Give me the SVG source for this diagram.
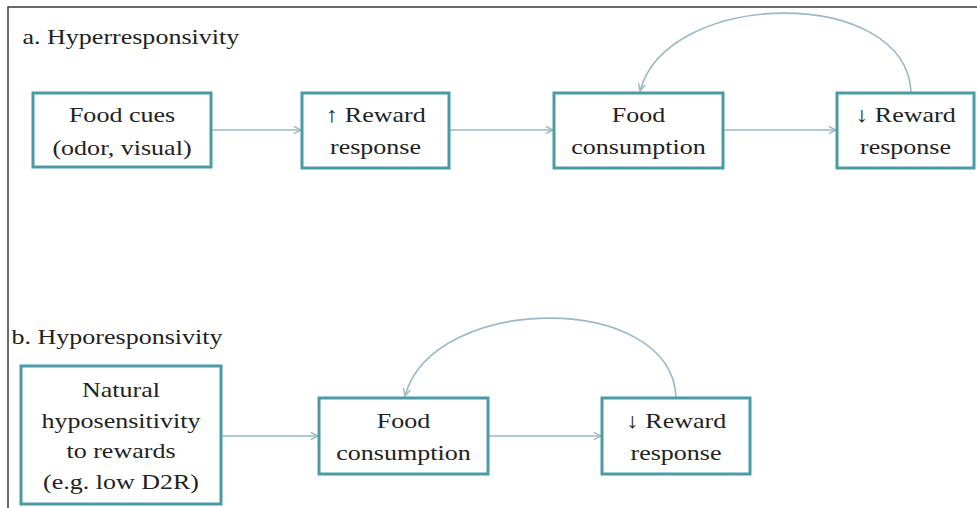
<svg xmlns="http://www.w3.org/2000/svg" width="977" height="508" viewBox="0 0 977 508">
  <style>
    .box { fill: #ffffff; stroke: #4b9ba6; stroke-width: 3; }
    .lbl { font-family: "Liberation Serif", "Times New Roman", serif; font-size: 21.5px; fill: #222222; text-anchor: middle; }
    .title { font-family: "Liberation Serif", "Times New Roman", serif; font-size: 21.5px; fill: #222222; }
    .conn { fill: none; stroke: #9ab9c4; stroke-width: 1.6; marker-end: url(#chev); }
  </style>
  <defs>
    <marker id="chev" viewBox="0 0 10 10" refX="9" refY="5" markerWidth="9" markerHeight="9" markerUnits="userSpaceOnUse" orient="auto">
      <path d="M1,1 L9,5 L1,9" fill="none" stroke="#9ab9c4" stroke-width="1.6"/>
    </marker>
  </defs>

  <rect x="0" y="0" width="977" height="508" fill="#ffffff"/>
  <!-- frame -->
  <rect x="8" y="7" width="990" height="520" fill="none" stroke="#3a3a3a" stroke-width="1.5"/>

  <!-- section titles -->
  <text class="title" transform="translate(22.5,44) scale(1.21,1)" x="0" y="0">a. Hyperresponsivity</text>
  <text class="title" transform="translate(11.5,344) scale(1.21,1)" x="0" y="0">b. Hyporesponsivity</text>

  <!-- connectors -->
  <g id="connectors">
    <path class="conn" d="M212,130 L301,130"/>
    <path class="conn" d="M450,130 L553,130"/>
    <path class="conn" d="M724,130 L836,130"/>
    <path class="conn" d="M911,92 C906,-14 668,-12 640,91"/>
    <path class="conn" d="M222,436 L318,436"/>
    <path class="conn" d="M489,436 L601,436"/>
    <path class="conn" d="M676,397 C671,291 433,293 405,396"/>
  </g>

  <!-- part a -->
  <g id="food-cues">
    <rect class="box" x="33" y="93" width="178" height="74"/>
    <text class="lbl" transform="translate(122,0) scale(1.21,1)"><tspan x="0" y="122">Food cues</tspan><tspan x="0" y="155">(odor, visual)</tspan></text>
  </g>
  <g id="reward-up">
    <rect class="box" x="302" y="93" width="147" height="75"/>
    <text class="lbl" transform="translate(375.5,0) scale(1.21,1)"><tspan x="0" y="122">↑ Reward</tspan><tspan x="0" y="154">response</tspan></text>
  </g>
  <g id="food-consumption-a">
    <rect class="box" x="554" y="93" width="169" height="75"/>
    <text class="lbl" transform="translate(638.5,0) scale(1.21,1)"><tspan x="0" y="122">Food</tspan><tspan x="0" y="154">consumption</tspan></text>
  </g>
  <g id="reward-down-a">
    <rect class="box" x="837" y="93" width="137" height="75"/>
    <text class="lbl" transform="translate(905.5,0) scale(1.21,1)"><tspan x="0" y="122">↓ Reward</tspan><tspan x="0" y="154">response</tspan></text>
  </g>

  <!-- part b -->
  <g id="hyposensitivity">
    <rect class="box" x="21" y="366" width="200" height="138"/>
    <text class="lbl" transform="translate(121,0) scale(1.21,1)"><tspan x="0" y="397">Natural</tspan><tspan x="0" y="428">hyposensitivity</tspan><tspan x="0" y="458">to rewards</tspan><tspan x="0" y="489">(e.g. low D2R)</tspan></text>
  </g>
  <g id="food-consumption-b">
    <rect class="box" x="319" y="398" width="169" height="76"/>
    <text class="lbl" transform="translate(403.5,0) scale(1.21,1)"><tspan x="0" y="428">Food</tspan><tspan x="0" y="460">consumption</tspan></text>
  </g>
  <g id="reward-down-b">
    <rect class="box" x="602" y="398" width="148" height="76"/>
    <text class="lbl" transform="translate(676,0) scale(1.21,1)"><tspan x="0" y="428">↓ Reward</tspan><tspan x="0" y="460">response</tspan></text>
  </g>
</svg>
